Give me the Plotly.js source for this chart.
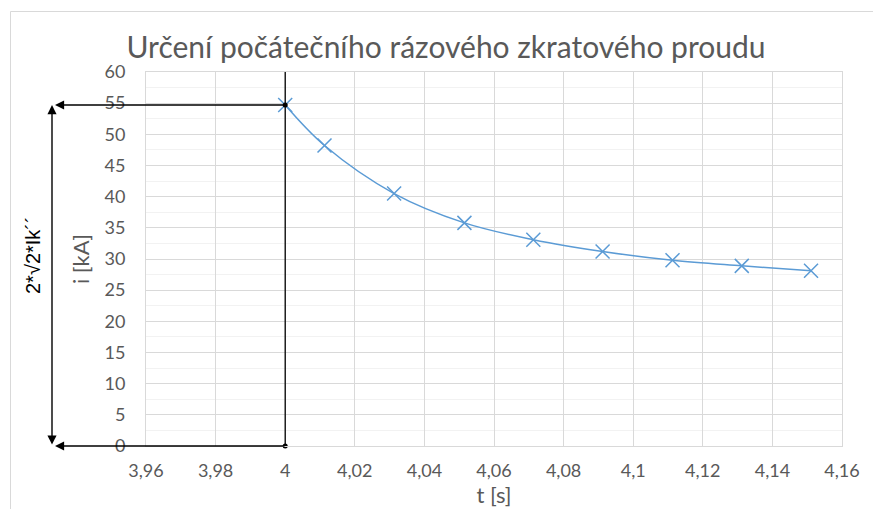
<!DOCTYPE html>
<html>
<head>
<meta charset="utf-8">
<script src="https://cdn.plot.ly/plotly-3.0.1.min.js"></script>
<style>html,body{margin:0;padding:0;background:#fff;}#chart{width:873px;height:509px;}</style>
</head>
<body>
<div id="chart"></div>
<script>
// Data
var timeS = [4, 4.0113, 4.0313, 4.0515, 4.0713, 4.0912, 4.1113, 4.1312, 4.1511];
var currentKA = [54.7, 48.2, 40.5, 35.8, 33.1, 31.2, 29.8, 28.9, 28.1];
var peakTime = 4;
var peakCurrent = 54.7;
var xTickVals = [3.96, 3.98, 4, 4.02, 4.04, 4.06, 4.08, 4.1, 4.12, 4.14, 4.16];
var xTickText = ["3,96", "3,98", "4", "4,02", "4,04", "4,06", "4,08", "4,1", "4,12", "4,14", "4,16"];
var titleText = "Určení počátečního rázového zkratového proudu";
var xTitle = "t [s]";
var yTitle = "i [kA]";
var sideLabel = "2*√2*Ik´´";

var FONT = "Lato, 'Open Sans', sans-serif";
var GREY = "#595959";
var BLUE = "#5B9BD5";

var traces = [
  {
    x: timeS, y: currentKA, type: "scatter", mode: "lines+markers",
    line: {color: BLUE, width: 1.5, shape: "spline", smoothing: 1},
    marker: {symbol: "x-thin", size: 14, line: {color: BLUE, width: 1.5}, color: BLUE},
    hoverinfo: "skip", showlegend: false
  },
  {
    x: [peakTime, peakTime], y: [peakCurrent, 0], type: "scatter", mode: "markers",
    marker: {color: "#000", size: 5}, hoverinfo: "skip", showlegend: false, cliponaxis: false
  }
];

// plot area pixel geometry helpers (left 146, right 842, top 72, bottom 446)
var L = 146, R = 842, T = 72, B = 446;
function px2paperX(p) { return (p - L) / (R - L); }
function px2paperY(p) { return (B - p) / (B - T); }

var layout = {
  width: 873, height: 509,
  margin: {l: L, r: 873 - R, t: T, b: 509 - B},
  paper_bgcolor: "#fff", plot_bgcolor: "#fff",
  font: {family: FONT, color: GREY},
  title: {text: titleText, font: {family: FONT, size: 30, color: GREY},
          x: 446 / 873, xref: "container", xanchor: "center", y: 1 - 47 / 509, yanchor: "middle"},
  xaxis: {
    range: [3.96, 4.16], tickvals: xTickVals, ticktext: xTickText,
    showgrid: true, gridcolor: "#D9D9D9", gridwidth: 1,
    zeroline: false, showline: true, linecolor: "#D9D9D9", linewidth: 1, mirror: true,
    ticks: "", ticklabelstandoff: 8,
    tickfont: {family: FONT, size: 18, color: GREY},
    title: {text: xTitle, font: {family: FONT, size: 22, color: GREY}, standoff: 0}
  },
  yaxis: {
    range: [0, 60], dtick: 5, tick0: 0,
    showgrid: true, gridcolor: "#D9D9D9", gridwidth: 1,
    minor: {dtick: 2.5, showgrid: true, gridcolor: "#F2F2F2", gridwidth: 1, ticks: ""},
    zeroline: false, showline: true, linecolor: "#D9D9D9", linewidth: 1, mirror: true,
    ticks: "", ticklabelstandoff: 16,
    tickfont: {family: FONT, size: 18, color: GREY},
    title: {text: yTitle, font: {family: FONT, size: 22, color: GREY}, standoff: 8}
  },
  shapes: [
    // chart frame
    {type: "line", xref: "paper", yref: "paper", x0: px2paperX(10.5), x1: px2paperX(10.5), y0: px2paperY(11.5), y1: px2paperY(509), line: {color: "#D9D9D9", width: 1}},
    {type: "line", xref: "paper", yref: "paper", x0: px2paperX(10.5), x1: px2paperX(873), y0: px2paperY(11.5), y1: px2paperY(11.5), line: {color: "#D9D9D9", width: 1}},
    // vertical black line at t = 4
    {type: "line", xref: "x", yref: "y", x0: peakTime, x1: peakTime, y0: 0, y1: 60, line: {color: "#000", width: 1.3}}
  ],
  annotations: [
    // horizontal arrow at peak
    {xref: "paper", yref: "y", x: px2paperX(55), y: peakCurrent, axref: "pixel", ayref: "pixel",
     ax: (286 - 55), ay: 0, showarrow: true, arrowhead: 2, arrowsize: 1.3, arrowwidth: 1.4, arrowcolor: "#000", text: ""},
    // horizontal arrow at zero
    {xref: "paper", yref: "y", x: px2paperX(55), y: 0, axref: "pixel", ayref: "pixel",
     ax: (286 - 55), ay: 0, showarrow: true, arrowhead: 2, arrowsize: 1.3, arrowwidth: 1.4, arrowcolor: "#000", text: ""},
    // vertical double arrow
    {xref: "paper", yref: "y", x: px2paperX(52), y: peakCurrent, axref: "pixel", ayref: "y",
     ax: 0, ay: 0, showarrow: true, arrowhead: 2, startarrowhead: 2, arrowside: "end+start",
     arrowsize: 1.3, startarrowsize: 1.3, arrowwidth: 1.4, arrowcolor: "#000", text: "", standoff: 0},
    // side label
    {xref: "paper", yref: "paper", x: px2paperX(33), y: px2paperY(255), xanchor: "center", yanchor: "middle",
     showarrow: false, text: sideLabel, textangle: -90,
     font: {family: "'Liberation Sans', Arial, sans-serif", size: 20, color: "#000"}}
  ],
  showlegend: false
};

Plotly.newPlot("chart", traces, layout, {staticPlot: true, displayModeBar: false});
</script>
</body>
</html>
